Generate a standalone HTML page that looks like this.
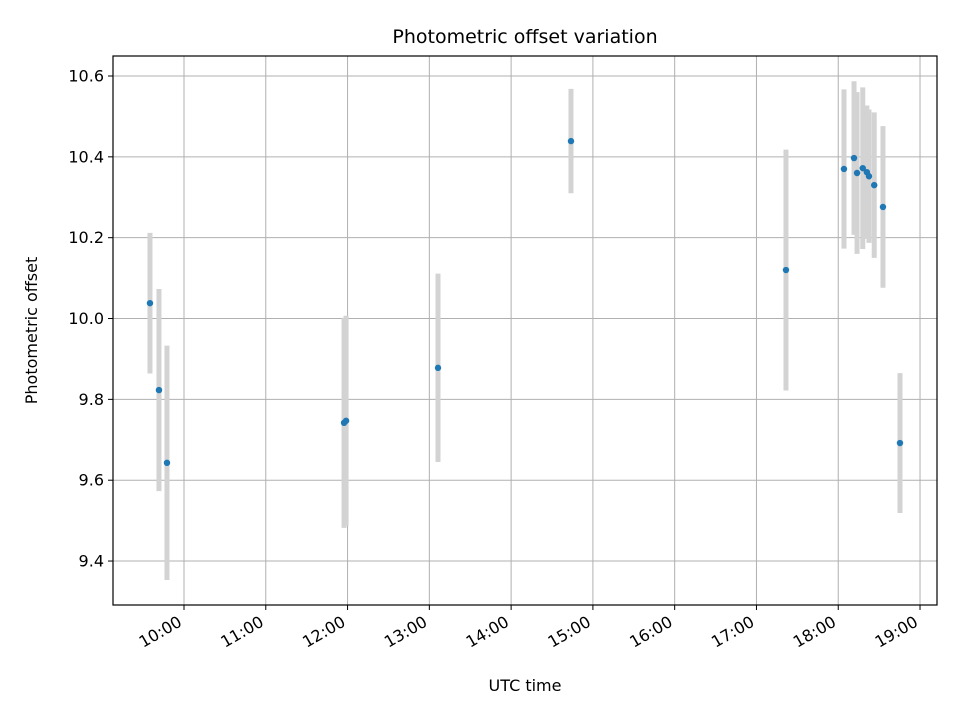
<!DOCTYPE html>
<html><head><meta charset="utf-8"><style>
body{margin:0;background:#fff}
svg{display:block;font-family:"DejaVu Sans","Liberation Sans",sans-serif}
</style></head><body>
<svg id="chart" width="960" height="720"></svg>
<script>
const times=[9.584,9.694,9.792,11.957,11.982,13.106,14.732,17.361,18.07,18.193,18.23,18.30,18.35,18.376,18.44,18.547,18.755];
const values=[10.038,9.823,9.643,9.742,9.747,9.878,10.439,10.12,10.37,10.397,10.36,10.372,10.362,10.352,10.33,10.276,9.692];
const errors=[0.174,0.25,0.29,0.26,0.26,0.233,0.129,0.298,0.197,0.19,0.2,0.2,0.165,0.165,0.18,0.2,0.173];
const yTicks=[9.4,9.6,9.8,10.0,10.2,10.4,10.6];
const xTicks=[10,11,12,13,14,15,16,17,18,19];
const xLabels=["10:00","11:00","12:00","13:00","14:00","15:00","16:00","17:00","18:00","19:00"];

const L=113,R=937,T=56,B=605;
const X=h=>184+(h-10)*81.78;
const Y=v=>76+(10.6-v)*404.2;
const svg=document.getElementById('chart');
const NS='http://www.w3.org/2000/svg';
function mk(tag,attrs,parent){const e=document.createElementNS(NS,tag);for(const k in attrs)e.setAttribute(k,attrs[k]);(parent||svg).appendChild(e);return e;}

const grid=mk('g',{});


yTicks.forEach((v,i)=>{
  const y=Y(v);
  const gl=mk('line',{x1:L,x2:R,y1:y,y2:y,stroke:'#b0b0b0','stroke-width':1},grid);
  
  
  mk('line',{x1:L-5,x2:L,y1:y,y2:y,stroke:'#000','stroke-width':1});
  const t=mk('text',{x:L-9,y:y+5.5,'text-anchor':'end','font-size':16});
  t.textContent=v.toFixed(1);
  
  
});
xTicks.forEach((h,i)=>{
  const x=X(h);
  const gl=mk('line',{x1:x,x2:x,y1:T,y2:B,stroke:'#b0b0b0','stroke-width':1},grid);
  
  
  mk('line',{x1:x,x2:x,y1:B,y2:B+5,stroke:'#000','stroke-width':1});
  const ax=x-1, ay=B+20;
  const t=mk('text',{x:ax,y:ay,'text-anchor':'end','font-size':16,transform:`rotate(-30 ${ax} ${ay})`});
  t.textContent=xLabels[i];
  
  
});

const eb=mk('g',{});


times.forEach((h,i)=>{
  const l=mk('line',{x1:X(h),x2:X(h),y1:Y(values[i]+errors[i]),y2:Y(values[i]-errors[i]),stroke:'#d3d3d3','stroke-width':5},eb);
  
  
});
const pts=mk('g',{});


times.forEach((h,i)=>{
  const c=mk('circle',{cx:X(h),cy:Y(values[i]),r:3.2,fill:'#1f77b4'},pts);
  
  
});

const frame=mk('rect',{x:L,y:T,width:R-L,height:B-T,fill:'none',stroke:'#000','stroke-width':1.2});



const title=mk('text',{x:(L+R)/2,y:43,'text-anchor':'middle','font-size':19});
title.textContent='Photometric offset variation';


const xt=mk('text',{x:(L+R)/2,y:691,'text-anchor':'middle','font-size':16});
xt.textContent='UTC time';


const yt=mk('text',{x:37,y:(T+B)/2,'text-anchor':'middle','font-size':16,transform:`rotate(-90 37 ${(T+B)/2})`});
yt.textContent='Photometric offset';


</script>
</body></html>
